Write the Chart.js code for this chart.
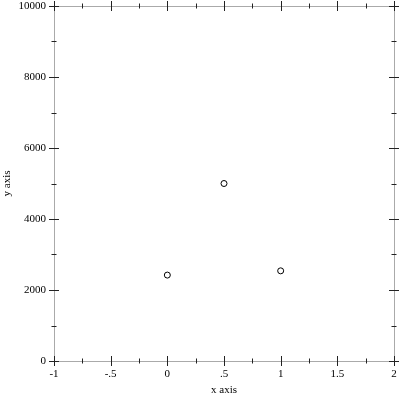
<!DOCTYPE html>
<html>
<head>
<meta charset="utf-8">
<script src="https://cdn.jsdelivr.net/npm/chart.js@4.4.0/dist/chart.umd.min.js"></script>
<style>
  html, body { margin: 0; padding: 0; background: #fff; }
  #wrap { width: 400px; height: 400px; }
</style>
</head>
<body>
<div id="wrap"><canvas id="plot" width="400" height="400"></canvas></div>
<script>
// datos
const xValues = [0, 0.5, 1];
const yValues = [2420, 5000, 2540];
const xTicks = [-1, -0.5, 0, 0.5, 1, 1.5, 2];
const yTicks = [0, 2000, 4000, 6000, 8000, 10000];
const xMinor = [-0.75, -0.25, 0.25, 0.75, 1.25, 1.75];
const yMinor = [1000, 3000, 5000, 7000, 9000];

const fontFamily = '"Liberation Serif", "DejaVu Serif", serif';

function fmtX(v) {
    if (v === 0) return '0';
    let s = String(v);
    s = s.replace(/^0\./, '.').replace(/^-0\./, '-.');
    return s;
}

// marcas de los ejes en los cuatro lados
const framePlugin = {
    id: 'frame',
    afterDatasetsDraw(chart) {
        const ctx = chart.ctx;
        const a = chart.chartArea;
        const xs = chart.scales.x, ys = chart.scales.y;
        ctx.save();
        ctx.strokeStyle = '#aaaaaa';
        ctx.lineWidth = 1;
        ctx.strokeRect(Math.round(a.left) + 0.5, Math.round(a.top) + 0.5,
            Math.round(a.right - a.left), Math.round(a.bottom - a.top));
        ctx.strokeStyle = '#222';
        const tick = (vals, len, isX) => {
            vals.forEach(v => {
                if (isX) {
                    const p = Math.round(xs.getPixelForValue(v)) + 0.5;
                    [a.top, a.bottom].forEach(yy => {
                        ctx.beginPath();
                        ctx.moveTo(p, yy - len);
                        ctx.lineTo(p, yy + len);
                        ctx.stroke();
                    });
                } else {
                    const p = Math.round(ys.getPixelForValue(v)) + 0.5;
                    [a.left, a.right].forEach(xx => {
                        ctx.beginPath();
                        ctx.moveTo(xx - len, p);
                        ctx.lineTo(xx + len, p);
                        ctx.stroke();
                    });
                }
            });
        };
        tick(xTicks, 5, true);
        tick(yTicks, 5, false);
        tick(xMinor, 2.5, true);
        tick(yMinor, 2.5, false);
        ctx.restore();
    }
};

const ctx = document.getElementById('plot').getContext('2d');
const chart = new Chart(ctx, {
    type: 'scatter',
    data: {
        datasets: [{
            data: xValues.map((x, i) => ({ x: x, y: yValues[i] })),
            pointRadius: 3,
            pointBorderWidth: 1,
            pointBorderColor: '#000',
            pointBackgroundColor: '#fff',
            pointHoverRadius: 3
        }]
    },
    options: {
        responsive: false,
        animation: false,
        layout: { padding: { top: 6, right: 6, left: 0, bottom: 0 } },
        plugins: {
            legend: { display: false },
            tooltip: { enabled: false }
        },
        scales: {
            x: {
                type: 'linear',
                min: -1,
                max: 2,
                afterBuildTicks: s => { s.ticks = xTicks.map(v => ({ value: v })); },
                afterFit: s => { s.height = 39; s.paddingLeft = 0; s.paddingRight = 0; },
                grid: { display: false, drawTicks: false },
                border: { display: false },
                ticks: {
                    padding: 7,
                    color: '#000',
                    font: { family: fontFamily, size: 11 },
                    callback: v => fmtX(v)
                },
                title: {
                    display: true,
                    text: 'x axis',
                    color: '#000',
                    font: { family: fontFamily, size: 11 },
                    padding: { top: 0, bottom: 3 }
                }
            },
            y: {
                type: 'linear',
                min: 0,
                max: 10000,
                afterBuildTicks: s => { s.ticks = yTicks.map(v => ({ value: v })); },
                afterFit: s => { s.width = 54; s.paddingTop = 0; s.paddingBottom = 0; },
                grid: { display: false, drawTicks: false },
                border: { display: false },
                ticks: {
                    padding: 8,
                    color: '#000',
                    font: { family: fontFamily, size: 11 },
                    callback: v => String(v)
                },
                title: {
                    display: true,
                    text: 'y axis',
                    color: '#000',
                    font: { family: fontFamily, size: 11 },
                    padding: { top: 1, bottom: 0 }
                }
            }
        }
    },
    plugins: [framePlugin]
});
</script>
</body>
</html>
